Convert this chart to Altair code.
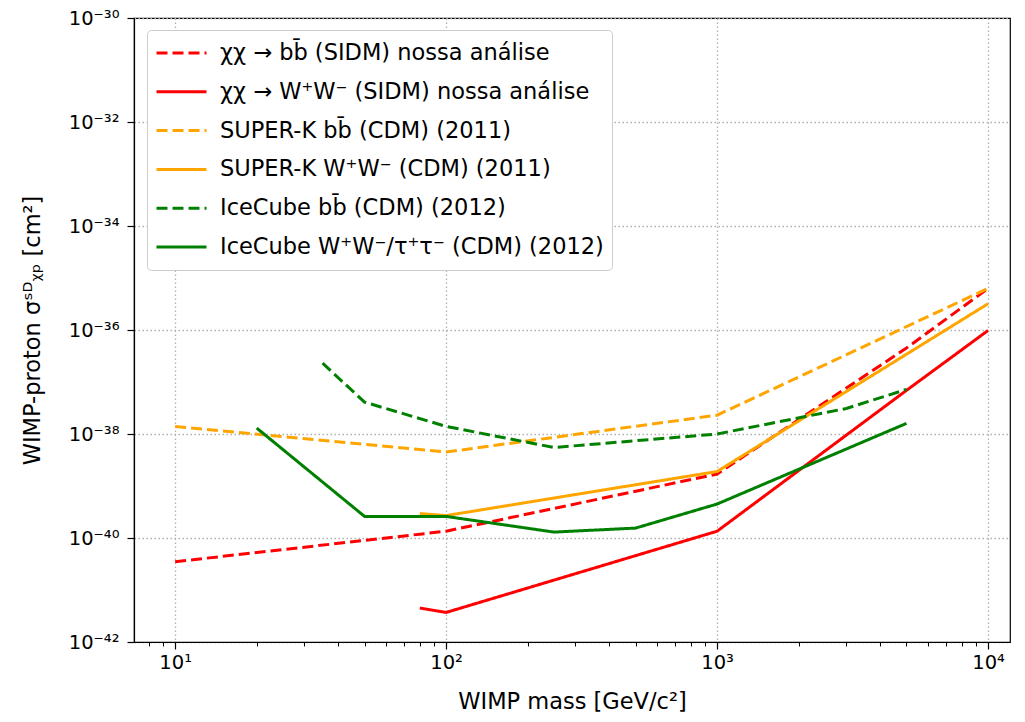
import altair as alt
import pandas as pd
import math

# ---- data ----
series_names = [
    "χχ → bb̄ (SIDM) nossa análise",
    "χχ → W⁺W⁻ (SIDM) nossa análise",
    "SUPER-K bb̄ (CDM) (2011)",
    "SUPER-K W⁺W⁻ (CDM) (2011)",
    "IceCube bb̄ (CDM) (2012)",
    "IceCube W⁺W⁻/τ⁺τ⁻ (CDM) (2012)",
]
series_colors = ["#ff0000", "#ff0000", "#ffa500", "#ffa500", "#008000", "#008000"]
series_dashes = [[11, 5], [1, 0], [11, 5], [1, 0], [11, 5], [1, 0]]

sidm_bb_mass = [10, 100, 1000, 5000, 10000]
sidm_bb_sigma = [3.5e-41, 1.35e-40, 1.7e-39, 4.5e-37, 6.3e-36]

sidm_ww_mass = [80, 100, 1000, 5000, 10000]
sidm_ww_sigma = [4.5e-42, 3.7e-42, 1.35e-40, 6.9e-38, 9.8e-37]

sk_bb_mass = [10, 100, 1000, 10000]
sk_bb_sigma = [1.4e-38, 4.5e-39, 2.3e-38, 6.3e-36]

sk_ww_mass = [80, 100, 1000, 10000]
sk_ww_sigma = [2.95e-40, 2.7e-40, 1.9e-39, 3.2e-36]

ic_bb_mass = [35, 50, 100, 250, 1000, 3000, 5000]
ic_bb_sigma = [2.3e-37, 4.1e-38, 1.4e-38, 5.5e-39, 1.0e-38, 3.1e-38, 7.2e-38]

ic_ww_mass = [20, 50, 100, 250, 500, 1000, 5000]
ic_ww_sigma = [1.3e-38, 2.6e-40, 2.6e-40, 1.3e-40, 1.55e-40, 4.5e-40, 1.6e-38]

x_major_ticks = [10, 100, 1000, 10000]
x_major_labels = ["10¹", "10²", "10³", "10⁴"]
x_minor_ticks = [8, 9, 20, 30, 40, 50, 60, 70, 80, 90, 200, 300, 400, 500, 600, 700, 800, 900,
                 2000, 3000, 4000, 5000, 6000, 7000, 8000, 9000]
y_major_ticks = [1e-42, 1e-40, 1e-38, 1e-36, 1e-34, 1e-32, 1e-30]
y_major_labels = ["10⁻⁴²", "10⁻⁴⁰", "10⁻³⁸", "10⁻³⁶", "10⁻³⁴", "10⁻³²", "10⁻³⁰"]

x_domain = [7.05, 12050]
y_domain = [1e-42, 1e-30]

# ---- table ----
rows = []
for name, ms, ss in zip(series_names,
                        [sidm_bb_mass, sidm_ww_mass, sk_bb_mass, sk_ww_mass, ic_bb_mass, ic_ww_mass],
                        [sidm_bb_sigma, sidm_ww_sigma, sk_bb_sigma, sk_ww_sigma, ic_bb_sigma, ic_ww_sigma]):
    for m, s in zip(ms, ss):
        rows.append({"series": name, "mass": m, "sigma": s})
df = pd.DataFrame(rows)


def label_expr(ticks, labels):
    expr = "''"
    for t, l in zip(ticks, labels):
        e = round(math.log10(t))
        expr = f"round(log(datum.value)/LN10) == {e} ? '{l}' : ({expr})"
    return expr


FONT = "DejaVu Sans"
GRID = dict(grid=True, gridDash=[1.5, 2.5], gridColor="#b0b0b0", gridWidth=1.3)
x_scale = alt.Scale(type="log", domain=x_domain, nice=False)
y_scale = alt.Scale(type="log", domain=y_domain, nice=False)

legend_props = dict(
    title=None, orient="none", legendX=13, legendY=12,
    fillColor="white", strokeColor="#cccccc", cornerRadius=4, padding=8,
    labelFont=FONT, labelFontSize=22.5, labelColor="black", labelLimit=800,
    symbolType="stroke", symbolSize=2500, symbolStrokeWidth=3,
    clipHeight=30, rowPadding=8.8, labelOffset=12,
)

lines = alt.Chart(df).mark_line(strokeWidth=3, clip=True).encode(
    x=alt.X("mass:Q", scale=x_scale,
            axis=alt.Axis(values=x_major_ticks, labelExpr=label_expr(x_major_ticks, x_major_labels),
                          title="WIMP mass [GeV/c²]", tickSize=7, tickWidth=1.2, tickColor="black",
                          labelPadding=4, titlePadding=19, orient="bottom", **GRID)),
    y=alt.Y("sigma:Q", scale=y_scale,
            axis=alt.Axis(values=y_major_ticks, labelExpr=label_expr(y_major_ticks, y_major_labels),
                          title="WIMP-proton σˢᴰᵪₚ [cm²]", tickSize=7, tickWidth=1.2, tickColor="black",
                          labelPadding=8, titlePadding=24, **GRID)),
    color=alt.Color("series:N", scale=alt.Scale(domain=series_names, range=series_colors),
                    sort=series_names, legend=alt.Legend(**legend_props)),
    strokeDash=alt.StrokeDash("series:N", scale=alt.Scale(domain=series_names, range=series_dashes),
                              sort=series_names, legend=alt.Legend(**legend_props)),
)

minor = alt.Chart(df).mark_point(opacity=0).encode(
    x=alt.X("mass:Q", scale=x_scale,
            axis=alt.Axis(values=x_minor_ticks, labels=False, tickSize=4, tickWidth=1, tickColor="black",
                          grid=False, domain=False, title=None, orient="bottom")),
)

chart = alt.layer(lines, minor).resolve_axis(x="independent").properties(
    width=876, height=624,
    autosize=alt.AutoSizeParams(type="none"),
    padding={"left": 134, "top": 18, "right": 15, "bottom": 80},
).configure_view(
    stroke="black", strokeWidth=1.2
).configure_axis(
    labelFont=FONT, titleFont=FONT, labelFontSize=19.5, titleFontSize=22.5,
    titleFontWeight="normal", labelColor="black", titleColor="black",
    domainColor="black", domainWidth=1.2,
)

chart.save("out.html", embed_options={"renderer": "svg", "actions": False})
